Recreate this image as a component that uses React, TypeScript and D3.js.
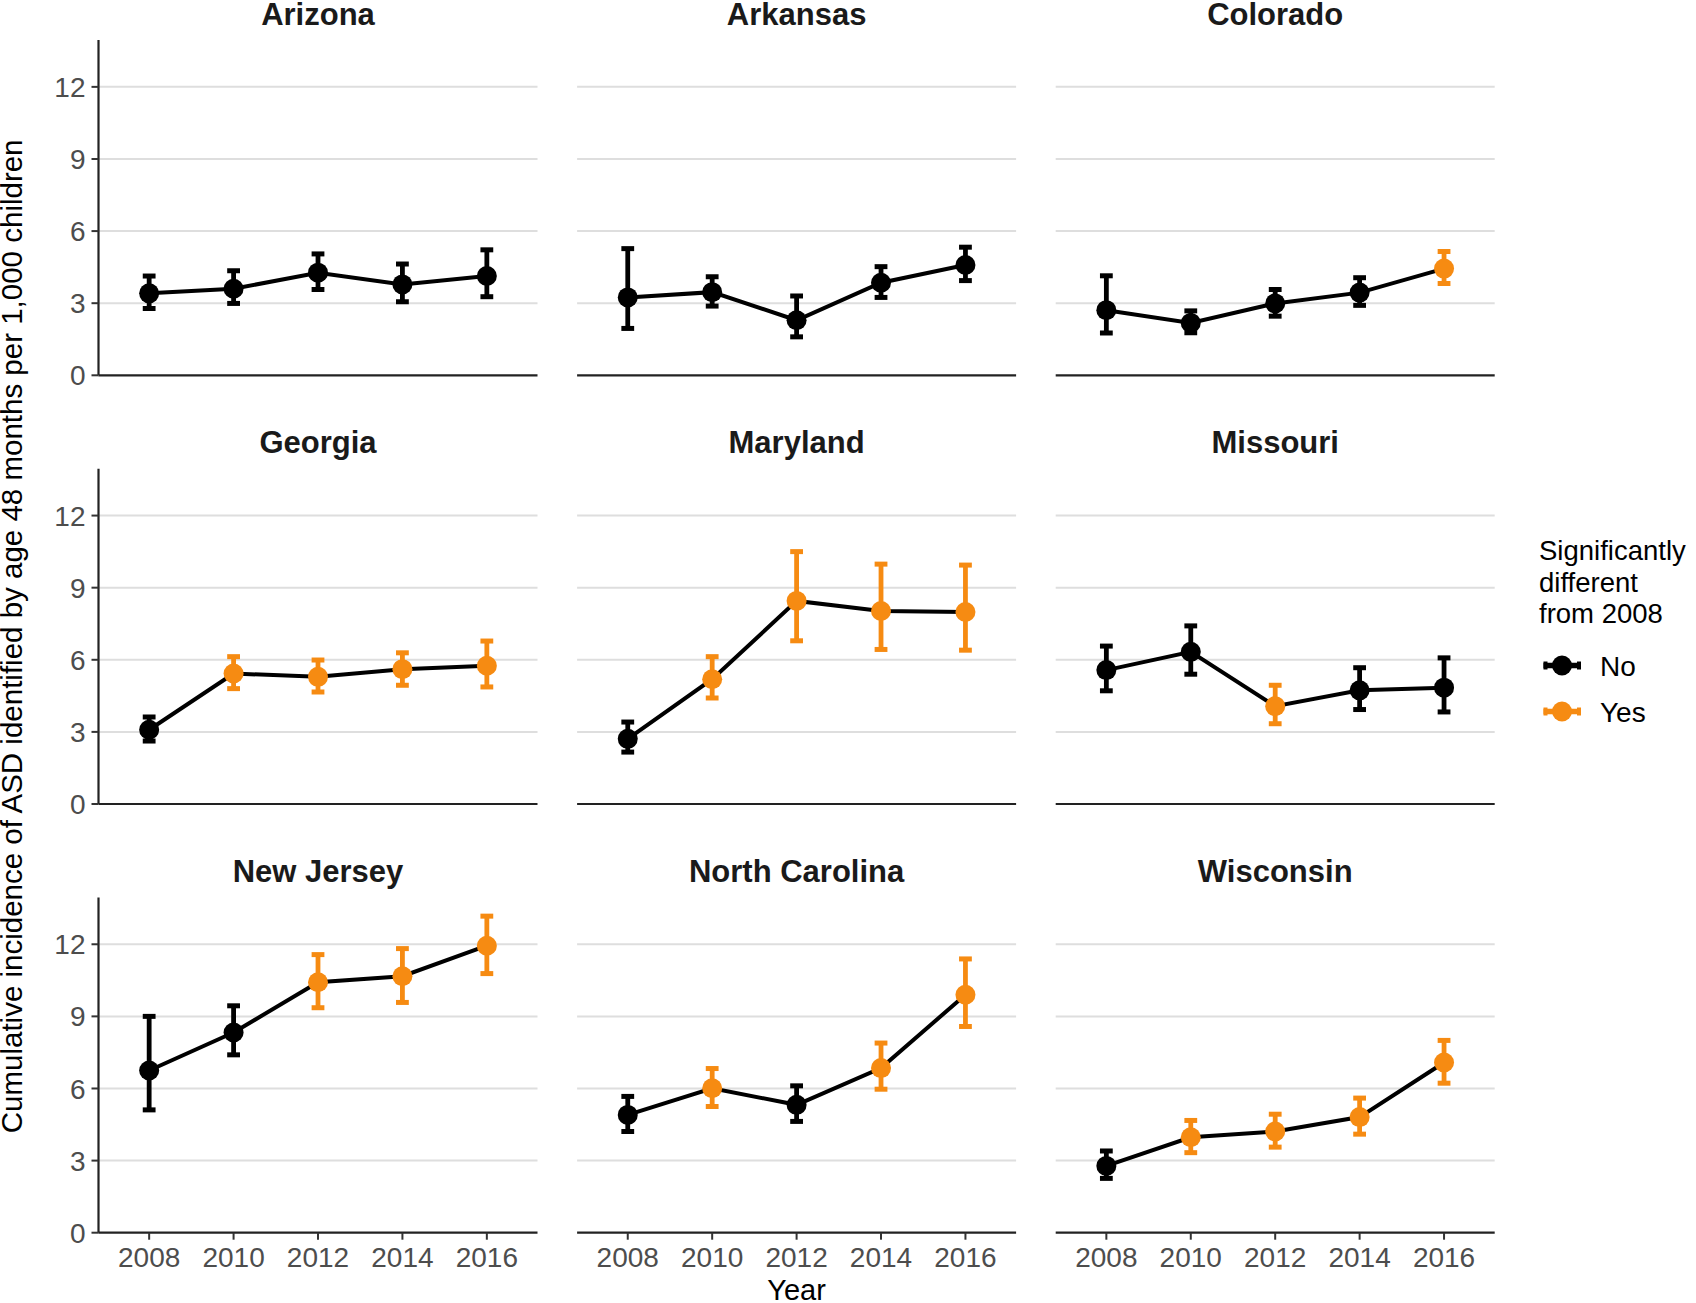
import React from "react";
import * as d3 from "d3";

const years = ["2008", "2010", "2012", "2014", "2016"];
const states = ["Arizona", "Arkansas", "Colorado", "Georgia", "Maryland", "Missouri", "New Jersey", "North Carolina", "Wisconsin"];

const estimates = [
  [3.41, 3.6, 4.27, 3.78, 4.13],
  [3.24, 3.46, 2.29, 3.85, 4.59],
  [2.71, 2.18, 2.99, 3.44, 4.44],
  [3.09, 5.43, 5.29, 5.61, 5.75],
  [2.71, 5.19, 8.45, 8.03, 7.99],
  [5.57, 6.33, 4.07, 4.73, 4.84],
  [6.75, 8.33, 10.42, 10.67, 11.94],
  [4.9, 6.01, 5.32, 6.85, 9.9],
  [2.78, 3.97, 4.21, 4.81, 7.08],
];
const lowerCI = [
  [2.78, 2.99, 3.57, 3.06, 3.27],
  [1.95, 2.88, 1.6, 3.24, 3.94],
  [1.76, 1.77, 2.46, 2.91, 3.82],
  [2.62, 4.8, 4.66, 4.94, 4.87],
  [2.16, 4.41, 6.79, 6.43, 6.4],
  [4.71, 5.4, 3.34, 3.93, 3.83],
  [5.11, 7.4, 9.36, 9.58, 10.78],
  [4.21, 5.25, 4.63, 5.97, 8.58],
  [2.26, 3.33, 3.56, 4.1, 6.22],
];
const upperCI = [
  [4.13, 4.35, 5.05, 4.63, 5.22],
  [5.27, 4.1, 3.3, 4.52, 5.33],
  [4.14, 2.68, 3.57, 4.06, 5.15],
  [3.62, 6.13, 5.99, 6.29, 6.78],
  [3.41, 6.13, 10.5, 9.98, 9.94],
  [6.57, 7.41, 4.94, 5.67, 6.08],
  [9.0, 9.44, 11.57, 11.82, 13.17],
  [5.67, 6.83, 6.11, 7.89, 11.39],
  [3.4, 4.67, 4.93, 5.6, 8.0],
];
const significant = [
  ["No", "No", "No", "No", "No"],
  ["No", "No", "No", "No", "No"],
  ["No", "No", "No", "No", "Yes"],
  ["No", "Yes", "Yes", "Yes", "Yes"],
  ["No", "Yes", "Yes", "Yes", "Yes"],
  ["No", "No", "Yes", "No", "No"],
  ["No", "No", "Yes", "Yes", "Yes"],
  ["No", "Yes", "No", "Yes", "Yes"],
  ["No", "Yes", "Yes", "Yes", "Yes"],
];
const yTicks = [0, 3, 6, 9, 12];
const gridTicks = [3, 6, 9, 12];
const legendLevels = ["No", "Yes"];
const legendTitle = ["Significantly", "different", "from 2008"];
const yTitle = "Cumulative incidence of ASD identified by age 48 months per 1,000 children";
const xTitle = "Year";

const COLORS: Record<string, string> = { No: "#000000", Yes: "#F68B12" };
const FONT = "'Liberation Sans', Arial, Helvetica, sans-serif";

const PANEL_W = 439;
const PANEL_H = 335.3;
const LEFT0 = 98.5;
const STEP_X = 478.6;
const TOP0 = 40;
const STEP_Y = 428.7;

export default function App() {
  const x = d3.scalePoint<string>().domain(years).range([0, PANEL_W]).padding(0.6);
  const y = d3.scaleLinear().domain([0, 13.95]).range([PANEL_H, 0]);
  const line = d3
    .line<number>()
    .x((_, i) => x(years[i]) as number)
    .y((d) => y(d));

  return (
    <svg
      width={1696}
      height={1303}
      style={{ position: "absolute", left: 0, top: 0, background: "#fff" }}
      fontFamily={FONT}
    >
      <rect x={0} y={0} width={1696} height={1303} fill="#fff" />
      {states.map((st, si) => {
        const col = si % 3;
        const row = Math.floor(si / 3);
        const tx = LEFT0 + col * STEP_X;
        const ty = TOP0 + row * STEP_Y;
        return (
          <g key={st} transform={`translate(${tx},${ty})`}>
            {gridTicks.map((t) => (
              <line key={t} x1={0} x2={PANEL_W} y1={y(t)} y2={y(t)} stroke="#DEDEDE" strokeWidth={2} />
            ))}
            <line x1={0} x2={PANEL_W} y1={PANEL_H} y2={PANEL_H} stroke="#222" strokeWidth={2.2} />
            {col === 0 && (
              <g>
                <line x1={0} x2={0} y1={0} y2={PANEL_H} stroke="#222" strokeWidth={2.2} />
                {yTicks.map((t) => (
                  <g key={t}>
                    <line x1={-7} x2={0} y1={y(t)} y2={y(t)} stroke="#333" strokeWidth={2} />
                    <text x={-13} y={y(t)} dy="0.36em" textAnchor="end" fontSize={28} fill="#4D4D4D">
                      {t}
                    </text>
                  </g>
                ))}
              </g>
            )}
            {row === 2 &&
              years.map((yr) => (
                <g key={yr}>
                  <line x1={x(yr)} x2={x(yr)} y1={PANEL_H} y2={PANEL_H + 7} stroke="#333" strokeWidth={2} />
                  <text x={x(yr)} y={PANEL_H + 34.5} textAnchor="middle" fontSize={28} fill="#4D4D4D">
                    {yr}
                  </text>
                </g>
              ))}
            <text x={PANEL_W / 2} y={-15.5} textAnchor="middle" fontSize={31} fontWeight="bold" fill="#1A1A1A">
              {st}
            </text>
            <path d={line(estimates[si]) || ""} fill="none" stroke="#000" strokeWidth={4} />
            {years.map((yr, i) => {
              const c = COLORS[significant[si][i]];
              const px = x(yr) as number;
              return (
                <g key={yr}>
                  <line x1={px} x2={px} y1={y(lowerCI[si][i])} y2={y(upperCI[si][i])} stroke={c} strokeWidth={4.8} />
                  <line x1={px - 6.4} x2={px + 6.4} y1={y(lowerCI[si][i])} y2={y(lowerCI[si][i])} stroke={c} strokeWidth={5} />
                  <line x1={px - 6.4} x2={px + 6.4} y1={y(upperCI[si][i])} y2={y(upperCI[si][i])} stroke={c} strokeWidth={5} />
                  <circle cx={px} cy={y(estimates[si][i])} r={10} fill={c} />
                </g>
              );
            })}
          </g>
        );
      })}
      <text
        transform={`translate(22,${TOP0 + (2 * STEP_Y + PANEL_H) / 2}) rotate(-90)`}
        textAnchor="middle"
        fontSize={29.5}
        fill="#000"
      >
        {yTitle}
      </text>
      <text x={LEFT0 + STEP_X + PANEL_W / 2} y={1300} textAnchor="middle" fontSize={29} fill="#000">
        {xTitle}
      </text>
      <g>
        {legendTitle.map((t, i) => (
          <text key={t} x={1539} y={560 + i * 31.7} fontSize={27.5} fill="#000">
            {t}
          </text>
        ))}
        {legendLevels.map((lv, i) => {
          const cy = 665.5 + i * 46;
          const c = COLORS[lv];
          return (
            <g key={lv}>
              <line x1={1543.5} x2={1581} y1={cy} y2={cy} stroke={c} strokeWidth={5.5} />
              <line x1={1545.5} x2={1545.5} y1={cy - 4} y2={cy + 4} stroke={c} strokeWidth={4} />
              <line x1={1579} x2={1579} y1={cy - 4} y2={cy + 4} stroke={c} strokeWidth={4} />
              <circle cx={1562} cy={cy} r={10} fill={c} />
              <text x={1600} y={cy} dy="0.36em" fontSize={28} fill="#000">
                {lv}
              </text>
            </g>
          );
        })}
      </g>
    </svg>
  );
}
